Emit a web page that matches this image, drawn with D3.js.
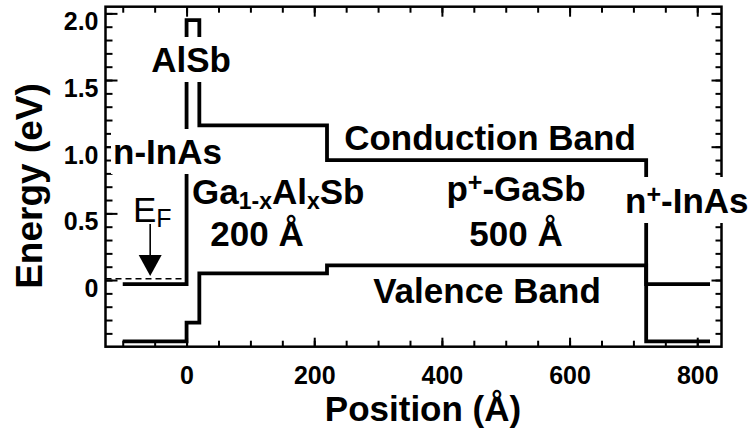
<!DOCTYPE html>
<html>
<head>
<meta charset="utf-8">
<script src="https://cdn.jsdelivr.net/npm/d3@7"></script>
<style>
  html, body { margin: 0; padding: 0; background: #fff; }
  svg { display: block; }
  text { font-family: "Liberation Sans", Arial, Helvetica, sans-serif; fill: #000; }
</style>
</head>
<body>
<svg id="chart" width="755" height="429"></svg>
<script>
// ---------------- data ----------------
const layerBoundaries = [-100, 0, 20, 220, 720, 820];     // Å
const conductionBand  = [-0.03, 1.95, 1.16, 0.90, -0.03];  // eV, per layer
const valenceBand     = [-0.46, -0.32, 0.05, 0.11, -0.46]; // eV, per layer
const fermiLevel = 0.01;
const fermiExtent = [-127, 0];
const fermiArrowX = -57;
const xMajorTicks = [0, 200, 400, 600, 800];
const xTickLabels = ["0", "200", "400", "600", "800"];
const yMajorTicks = [0, 0.5, 1.0, 1.5, 2.0];
const yTickLabels = ["0", "0.5", "1.0", "1.5", "2.0"];
const xMinorTicks = d3.range(-100, 801, 50);
const yMinorTicks = d3.range(-4, 21).map(i => i / 10);

// ---------------- layout ----------------
const svg = d3.select("#chart");
const L = 105.5, R = 721.5, T = 6.7, B = 346.7;
const x = d3.scaleLinear().domain([-127, 838]).range([L, R]);
const y = d3.scaleLinear().domain([-0.5, 2.05]).range([B, T]);
const FONT = '"Liberation Sans", Arial, Helvetica, sans-serif';

// ---------------- axes ----------------
function styleAxis(g) {
  g.select(".domain").remove();
  g.selectAll(".tick line").attr("stroke", "#000").attr("stroke-width", 2);
}
svg.append("g").attr("transform", `translate(0,${B})`)
  .call(d3.axisBottom(x).tickValues(xMinorTicks).tickSize(-6).tickFormat(""))
  .call(styleAxis);
const gxMaj = svg.append("g").attr("transform", `translate(0,${B})`)
  .call(d3.axisBottom(x).tickValues(xMajorTicks).tickSize(-9)
        .tickFormat((d, i) => xTickLabels[i]))
  .call(styleAxis);
gxMaj.selectAll("text").attr("y", 37).attr("dy", 0)
  .attr("font-size", 25).attr("font-weight", "bold").attr("font-family", FONT);

svg.append("g").attr("transform", `translate(0,${T})`)
  .call(d3.axisTop(x).tickValues(xMinorTicks).tickSize(-6).tickFormat(""))
  .call(styleAxis);
svg.append("g").attr("transform", `translate(0,${T})`)
  .call(d3.axisTop(x).tickValues(xMajorTicks).tickSize(-10).tickFormat(""))
  .call(styleAxis);

svg.append("g").attr("transform", `translate(${L},0)`)
  .call(d3.axisLeft(y).tickValues(yMinorTicks).tickSize(-7).tickFormat(""))
  .call(styleAxis);
const gyMaj = svg.append("g").attr("transform", `translate(${L},0)`)
  .call(d3.axisLeft(y).tickValues(yMajorTicks).tickSize(-12)
        .tickFormat((d, i) => yTickLabels[i]))
  .call(styleAxis);
gyMaj.selectAll("text").attr("x", -7).attr("y", 16.5).attr("dy", 0)
  .attr("text-anchor", "end")
  .attr("font-size", 25).attr("font-weight", "bold").attr("font-family", FONT);

svg.append("g").attr("transform", `translate(${R},0)`)
  .call(d3.axisRight(y).tickValues(yMinorTicks).tickSize(-6).tickFormat(""))
  .call(styleAxis);
svg.append("g").attr("transform", `translate(${R},0)`)
  .call(d3.axisRight(y).tickValues(yMajorTicks).tickSize(-10).tickFormat(""))
  .call(styleAxis);

// frame
svg.append("rect").attr("x", L).attr("y", T).attr("width", R - L).attr("height", B - T)
  .attr("fill", "none").attr("stroke", "#000").attr("stroke-width", 2.5);

// ---------------- bands ----------------
function stepPoints(levels) {
  return layerBoundaries.map((p, i) => [p, levels[Math.min(i, levels.length - 1)]]);
}
const bandLine = d3.line().x(d => x(d[0])).y(d => y(d[1])).curve(d3.curveStepAfter);
[conductionBand, valenceBand].forEach(levels => {
  svg.append("path").attr("d", bandLine(stepPoints(levels)))
    .attr("fill", "none").attr("stroke", "#000").attr("stroke-width", 3.8)
    .attr("stroke-linejoin", "miter").attr("stroke-linecap", "butt");
});

// Fermi level (dashed)
svg.append("line")
  .attr("x1", x(fermiExtent[0])).attr("x2", x(fermiExtent[1]))
  .attr("y1", y(fermiLevel)).attr("y2", y(fermiLevel))
  .attr("stroke", "#000").attr("stroke-width", 1.6).attr("stroke-dasharray", "6,4");

// arrow to E_F
const ax = x(fermiArrowX);
svg.append("line").attr("x1", ax).attr("x2", ax).attr("y1", 224).attr("y2", 258)
  .attr("stroke", "#000").attr("stroke-width", 1.6);
svg.append("path")
  .attr("d", `M${ax - 11.5},255 L${ax + 11.5},255 L${ax},276 Z`).attr("fill", "#000");

// ---------------- labels ----------------
function label(parts, px, py, anchor, bg) {
  const g = svg.append("g");
  const t = g.append("text").attr("x", px).attr("y", py)
    .attr("text-anchor", anchor || "start")
    .attr("font-weight", "bold").attr("font-size", 35).attr("font-family", FONT);
  parts.forEach(p => {
    const s = t.append("tspan").text(p.t);
    if (p.sub) s.attr("font-size", 23).attr("baseline-shift", "-5");
    if (p.sup) s.attr("font-size", 25).attr("baseline-shift", "10");
  });
  if (bg) {
    const bb = t.node().getBBox();
    g.insert("rect", "text").attr("x", bb.x - 2).attr("y", bb.y - 3)
      .attr("width", bb.width + 4).attr("height", bb.height + 6).attr("fill", "#fff");
  }
  return t;
}
label([{t: "AlSb"}], 191, 72, "middle", true);
label([{t: "n-InAs"}], 113, 164, "start", true);
label([{t: "Ga"}, {t: "1-x", sub: true}, {t: "Al"}, {t: "x", sub: true}, {t: "Sb"}], 192, 203.5, "start");
label([{t: "200 Å"}], 257, 246, "middle");
label([{t: "p"}, {t: "+", sup: true}, {t: "-GaSb"}], 516, 201, "middle");
label([{t: "500 Å"}], 516, 246, "middle");
label([{t: "Conduction Band"}], 490, 150, "middle");
label([{t: "Valence Band"}], 487, 303, "middle");
label([{t: "n"}, {t: "+", sup: true}, {t: "-InAs"}], 625, 213, "start", true);

// E_F
const ef = svg.append("text").attr("x", 133).attr("y", 222)
  .attr("font-size", 35).attr("font-family", FONT);
ef.append("tspan").text("E");
ef.append("tspan").text("F").attr("font-size", 25).attr("baseline-shift", "-5");

// axis titles
svg.append("text").attr("transform", `translate(42,186) rotate(-90)`)
  .attr("text-anchor", "middle").attr("font-weight", "bold").attr("font-size", 37)
  .attr("font-family", FONT).text("Energy (eV)");
svg.append("text").attr("x", 423).attr("y", 421).attr("text-anchor", "middle")
  .attr("font-weight", "bold").attr("font-size", 35)
  .attr("font-family", FONT).text("Position (Å)");
</script>
</body>
</html>
